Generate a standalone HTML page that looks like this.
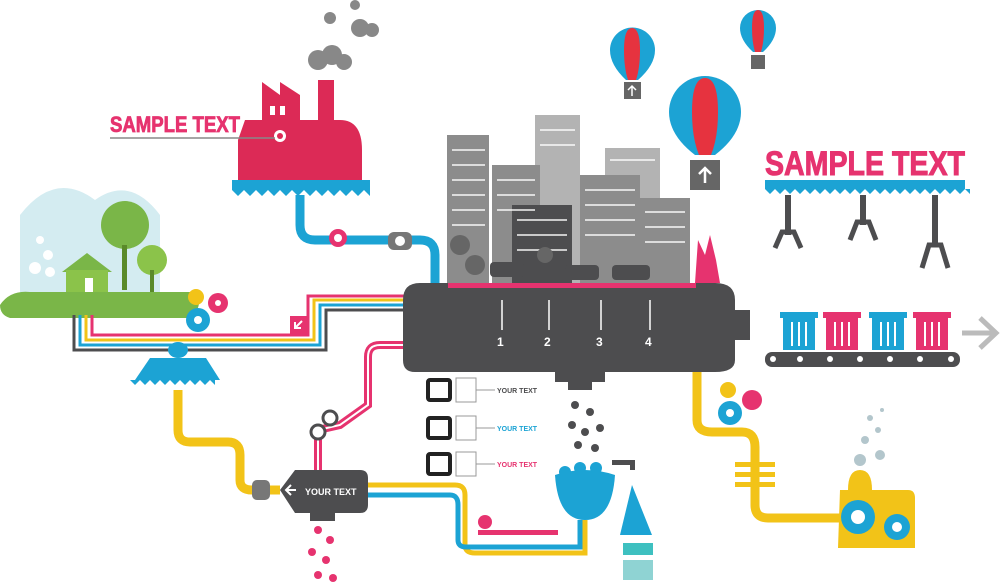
<!DOCTYPE html>
<html><head><meta charset="utf-8"><style>
html,body{margin:0;padding:0;background:#fff;width:1000px;height:584px;overflow:hidden}
svg{display:block}
text{font-family:"Liberation Sans",sans-serif;font-weight:bold}
</style></head><body>
<svg width="1000" height="584" viewBox="0 0 1000 584" xmlns="http://www.w3.org/2000/svg">
<g fill="#888">
<circle cx="330" cy="18" r="6"/><circle cx="355" cy="5" r="5"/>
<circle cx="360" cy="28" r="9"/><circle cx="372" cy="30" r="7"/>
<circle cx="318" cy="60" r="10"/><circle cx="332" cy="55" r="10"/><circle cx="344" cy="62" r="8"/>
</g>
<g fill="#dc2a56">
<rect x="318" y="80" width="16" height="40"/>
<polygon points="262,110 262,82 280,95 280,82 300,95 300,120 262,120"/>
<path d="M245 120 H340 Q362 120 362 150 V180 H238 V140 Z"/>
</g>
<circle cx="280" cy="136" r="6" fill="#fff"/><circle cx="280" cy="136" r="3" fill="#dc2a56"/>
<rect x="270" y="106" width="5" height="9" fill="#fff"/><rect x="280" y="106" width="5" height="9" fill="#fff"/>
<rect x="232" y="180" width="138" height="10" fill="#1ca3d4"/>
<path d="M232 190 l6 6 l6-6 l6 6 l6-6 l6 6 l6-6 l6 6 l6-6 l6 6 l6-6 l6 6 l6-6 l6 6 l6-6 l6 6 l6-6 l6 6 l6-6 l6 6 l6-6 l6 6 l6-6 l6 6 V190Z" fill="#1ca3d4"/>
<text x="110" y="132" font-size="22" fill="#e6336f" stroke="#e6336f" stroke-width="0.8" textLength="130" lengthAdjust="spacingAndGlyphs">SAMPLE TEXT</text>
<line x1="110" y1="138" x2="275" y2="138" stroke="#888" stroke-width="1.5"/>
<path d="M300 195 V225 Q300 240 315 240 H420 Q435 240 435 255 V285" fill="none" stroke="#1ca3d4" stroke-width="9"/>
<rect x="388" y="232" width="24" height="18" rx="6" fill="#777"/><circle cx="400" cy="241" r="5" fill="#fff"/>
<circle cx="338" cy="238" r="9" fill="#e6336f"/><circle cx="338" cy="238" r="4" fill="#fff"/>
<path d="M20 300 V215 Q55 170 95 200 Q130 175 160 215 V300Z" fill="#d4ecf1"/>
<g fill="#fff"><circle cx="40" cy="240" r="4"/><circle cx="48" cy="255" r="5"/><circle cx="35" cy="268" r="6"/><circle cx="50" cy="272" r="5"/></g>
<path d="M0 305 Q10 290 30 292 L195 292 Q205 305 190 318 L10 318 Q0 315 0 305Z" fill="#7ab648"/>
<circle cx="125" cy="225" r="24" fill="#7ab648"/><rect x="122" y="245" width="5" height="45" fill="#5a8a2a"/>
<circle cx="152" cy="260" r="15" fill="#8bc34a"/><rect x="150" y="270" width="4" height="22" fill="#5a8a2a"/>
<polygon points="62,272 87,253 112,272" fill="#7ab648"/><rect x="66" y="270" width="42" height="22" fill="#8bc34a"/>
<rect x="85" y="278" width="8" height="14" fill="#fff"/>
<circle cx="196" cy="297" r="8" fill="#f2c318"/><circle cx="218" cy="303" r="10" fill="#e6336f"/><circle cx="198" cy="320" r="12" fill="#1ca3d4"/>
<circle cx="198" cy="320" r="4" fill="#fff"/><circle cx="218" cy="303" r="3" fill="#fff"/>
<g fill="none" stroke-width="3">
<path d="M80 315 V345 H320 V305 H405" stroke="#1ca3d4"/>
<path d="M86 315 V340 H314 V300 H405" stroke="#f2c318"/>
<path d="M92 315 V335 H308 V296 H405" stroke="#e6336f"/>
<path d="M74 315 V350 H326 V310 H405" stroke="#4d4d4f"/>
</g>
<rect x="290" y="316" width="18" height="18" fill="#e6336f"/><path d="M302 321 L295 328 M295 322 V328 H301" stroke="#fff" stroke-width="2" fill="none"/>
<ellipse cx="178" cy="350" rx="10" ry="8" fill="#1ca3d4"/>
<path d="M150 358 H206 L220 380 H135Z" fill="#1ca3d4"/>
<path d="M130 380 l5 5 l5 -5 l5 5 l5-5 l5 5 l5-5 l5 5 l5-5 l5 5 l5-5 l5 5 l5-5 l5 5 l5-5 l5 5 l5-5 l5 5 V380Z" fill="#1ca3d4"/>
<path d="M178 390 V430 Q178 442 190 442 H228 Q240 442 240 455 V480 Q240 490 252 490 H280" fill="none" stroke="#f2c318" stroke-width="9"/>
<rect x="252" y="480" width="18" height="20" rx="5" fill="#777"/>
<path d="M280 490 L295 470 H360 Q368 470 368 478 V505 Q368 513 360 513 H295Z" fill="#4d4d4f"/>
<rect x="310" y="513" width="25" height="8" fill="#4d4d4f"/>
<text x="305" y="495" font-size="9" fill="#fff">YOUR TEXT</text>
<path d="M296 490 H286 M291 485 L286 490 L291 495" stroke="#fff" stroke-width="2" fill="none"/>
<g fill="#e6336f"><circle cx="318" cy="530" r="4"/><circle cx="330" cy="540" r="4"/><circle cx="312" cy="552" r="4"/><circle cx="326" cy="560" r="4"/><circle cx="318" cy="575" r="4"/><circle cx="333" cy="578" r="4"/></g>
<path d="M405 345 H380 Q368 345 368 357 V405 L340 425 L318 430 V470" fill="none" stroke="#e6336f" stroke-width="8"/>
<path d="M405 345 H380 Q368 345 368 357 V405 L340 425 L318 430 V470" fill="none" stroke="#fff" stroke-width="2"/>
<circle cx="330" cy="418" r="7" fill="#fff" stroke="#4d4d4f" stroke-width="3"/><circle cx="318" cy="432" r="7" fill="#fff" stroke="#4d4d4f" stroke-width="3"/>
<path d="M368 485 H455 Q465 485 465 495 V545 Q465 553 475 553 H585 V520" fill="none" stroke="#f2c318" stroke-width="5"/>
<path d="M368 495 H450 Q458 495 458 505 V540 Q458 547 466 547 H580 V520" fill="none" stroke="#1ca3d4" stroke-width="5"/>
<circle cx="485" cy="522" r="7" fill="#e6336f"/><rect x="478" y="530" width="80" height="5" fill="#e6336f"/>
<path d="M555 475 Q585 465 615 475 Q612 520 585 520 Q558 520 555 475Z" fill="#1ca3d4"/>
<circle cx="565" cy="472" r="6" fill="#1ca3d4"/><circle cx="580" cy="468" r="6" fill="#1ca3d4"/><circle cx="596" cy="468" r="6" fill="#1ca3d4"/>
<rect x="612" y="460" width="22" height="5" fill="#4d4d4f"/><rect x="630" y="460" width="5" height="10" fill="#4d4d4f"/>
<path d="M632 485 L652 535 H620Z" fill="#1ca3d4"/>
<rect x="623" y="543" width="30" height="12" fill="#3ec0c0"/><rect x="623" y="560" width="30" height="20" fill="#8fd3d3"/>
<g fill="#4d4d4f"><circle cx="575" cy="405" r="4"/><circle cx="590" cy="412" r="4"/><circle cx="572" cy="425" r="4"/><circle cx="585" cy="432" r="4"/><circle cx="600" cy="428" r="4"/><circle cx="578" cy="445" r="4"/><circle cx="595" cy="448" r="4"/></g>
<g fill="#fff" stroke="#222" stroke-width="4"><rect x="428" y="380" width="22" height="20" rx="2"/><rect x="428" y="418" width="22" height="20" rx="2"/><rect x="428" y="454" width="22" height="20" rx="2"/></g>
<g fill="none" stroke="#999" stroke-width="1"><rect x="456" y="378" width="20" height="24"/><rect x="456" y="416" width="20" height="24"/><rect x="456" y="452" width="20" height="24"/>
<line x1="476" y1="390" x2="495" y2="390"/><line x1="476" y1="428" x2="495" y2="428"/><line x1="476" y1="464" x2="495" y2="464"/></g>
<text x="497" y="393" font-size="7" fill="#4d4d4f">YOUR TEXT</text>
<text x="497" y="431" font-size="7" fill="#1ca3d4">YOUR TEXT</text>
<text x="497" y="467" font-size="7" fill="#e6336f">YOUR TEXT</text>
<g fill="#b3b3b3"><rect x="535" y="115" width="45" height="170"/><rect x="605" y="148" width="55" height="137"/></g>
<g fill="#8c8c8c"><rect x="447" y="135" width="42" height="150"/><rect x="492" y="165" width="48" height="120"/><rect x="580" y="175" width="60" height="110"/><rect x="640" y="198" width="50" height="87"/></g>
<rect x="512" y="205" width="60" height="80" fill="#4d4d4f"/>
<g stroke="#fff" stroke-width="2" opacity="0.7">
<path d="M452 150 H485 M452 165 H485 M452 180 H485 M452 195 H485 M452 210 H485 M452 225 H485 M497 180 H535 M497 195 H535 M497 210 H535 M585 190 H635 M585 205 H635 M585 220 H635 M585 235 H635 M645 212 H685 M645 227 H685 M645 242 H685 M517 220 H567 M517 235 H567 M517 250 H567 M540 130 H575 M540 145 H575 M610 160 H655"/>
</g>
<g fill="#666"><circle cx="460" cy="245" r="10"/><circle cx="475" cy="265" r="10"/><circle cx="545" cy="255" r="8"/></g>
<g fill="#4d4d4f"><rect x="490" y="262" width="34" height="15" rx="4"/><rect x="565" y="265" width="34" height="15" rx="4"/><rect x="612" y="265" width="38" height="15" rx="4"/></g>
<path d="M695 283 L698 240 L705 255 L710 235 L716 260 L720 283Z" fill="#e6336f"/>
<rect x="447" y="283" width="250" height="5" fill="#e6336f"/>
<rect x="447" y="288" width="250" height="3" fill="#1ca3d4"/>
<path d="M428 283 H448 V288 H696 V283 H715 Q735 283 735 300 V360 Q735 372 715 372 H415 Q403 372 403 360 V300 Q403 283 420 283Z" fill="#4d4d4f"/>
<rect x="735" y="310" width="15" height="30" fill="#4d4d4f"/>
<rect x="555" y="372" width="50" height="10" fill="#4d4d4f"/><rect x="568" y="382" width="24" height="8" fill="#4d4d4f"/>
<g stroke="#fff" stroke-width="1.5"><line x1="502" y1="300" x2="502" y2="330"/><line x1="549" y1="300" x2="549" y2="330"/><line x1="601" y1="300" x2="601" y2="330"/><line x1="650" y1="300" x2="650" y2="330"/></g>
<g font-size="12" fill="#fff"><text x="497" y="346">1</text><text x="544" y="346">2</text><text x="596" y="346">3</text><text x="645" y="346">4</text></g>
<path d="M697 372 V420 Q697 432 712 432 H742 Q755 432 755 447 V505 Q755 518 768 518 H840" fill="none" stroke="#f2c318" stroke-width="9"/>
<g fill="#f2c318"><rect x="735" y="462" width="40" height="5"/><rect x="735" y="472" width="40" height="5"/><rect x="735" y="482" width="40" height="5"/></g>
<circle cx="728" cy="390" r="8" fill="#f2c318"/><circle cx="752" cy="400" r="10" fill="#e6336f"/><circle cx="730" cy="413" r="12" fill="#1ca3d4"/><circle cx="730" cy="413" r="4" fill="#fff"/>
<path d="M840 490 H908 Q915 490 915 498 V548 H838 Z" fill="#f2c318"/>
<path d="M848 490 Q848 470 860 470 Q872 470 872 490Z" fill="#f2c318"/>
<circle cx="858" cy="517" r="17" fill="#1ca3d4"/><circle cx="858" cy="517" r="7" fill="#fff"/>
<circle cx="897" cy="527" r="13" fill="#1ca3d4"/><circle cx="897" cy="527" r="5" fill="#fff"/>
<g fill="#b3c6cc"><circle cx="860" cy="460" r="6"/><circle cx="880" cy="455" r="5"/><circle cx="865" cy="440" r="4"/><circle cx="878" cy="430" r="3"/><circle cx="870" cy="418" r="3"/><circle cx="882" cy="410" r="2"/></g>
<g>
<path d="M610 50 A22 22 0 0 1 655 50 Q655 65 638 80 H626 Q610 65 610 50Z" fill="#1ca3d4"/>
<path d="M624 50 Q624 28 632 28 Q640 28 640 50 Q640 68 636 80 H628 Q624 68 624 50Z" fill="#e6333f"/>
<rect x="624" y="82" width="17" height="17" fill="#666"/><path d="M632 96 V86 M628 90 L632 86 L636 90" stroke="#fff" stroke-width="1.5" fill="none"/>
<path d="M740 28 A18 18 0 0 1 776 28 Q776 40 763 52 H753 Q740 40 740 28Z" fill="#1ca3d4"/>
<path d="M752 28 Q752 10 758 10 Q764 10 764 28 Q764 42 761 52 H755 Q752 42 752 28Z" fill="#e6333f"/>
<rect x="751" y="55" width="14" height="14" fill="#666"/>
<path d="M669 112 A36 36 0 0 1 741 112 Q741 135 715 155 H695 Q669 135 669 112Z" fill="#1ca3d4"/>
<path d="M692 112 Q692 78 705 78 Q718 78 718 112 Q718 138 711 155 H699 Q692 138 692 112Z" fill="#e6333f"/>
<rect x="690" y="160" width="30" height="30" fill="#666"/><path d="M705 183 V168 M699 174 L705 168 L711 174" stroke="#fff" stroke-width="2.5" fill="none"/>
</g>
<text x="765" y="175" font-size="34" fill="#e6336f" stroke="#e6336f" stroke-width="1" textLength="200" lengthAdjust="spacingAndGlyphs">SAMPLE TEXT</text>
<rect x="765" y="180" width="200" height="9" fill="#1ca3d4"/>
<path d="M765 189 l5 5 l5-5 l5 5 l5-5 l5 5 l5-5 l5 5 l5-5 l5 5 l5-5 l5 5 l5-5 l5 5 l5-5 l5 5 l5-5 l5 5 l5-5 l5 5 l5-5 l5 5 l5-5 l5 5 l5-5 l5 5 l5-5 l5 5 l5-5 l5 5 l5-5 l5 5 l5-5 l5 5 l5-5 l5 5 l5-5 l5 5 l5-5 l5 5 l5-5 l5 5 V189Z" fill="#1ca3d4"/>
<g fill="#4d4d4f">
<rect x="785" y="195" width="6" height="40"/><path d="M775 248 L782 232 H794 L801 248" stroke="#4d4d4f" stroke-width="5" fill="none"/>
<rect x="860" y="195" width="6" height="30"/><path d="M850 240 L857 222 H869 L876 240" stroke="#4d4d4f" stroke-width="5" fill="none"/>
<rect x="932" y="195" width="6" height="50"/><path d="M922 268 L929 245 H941 L948 268" stroke="#4d4d4f" stroke-width="5" fill="none"/>
</g>
<g>
<rect x="783" y="318" width="32" height="32" fill="#1ca3d4"/><rect x="780" y="312" width="38" height="6" fill="#1ca3d4"/>
<rect x="826" y="318" width="32" height="32" fill="#e6336f"/><rect x="823" y="312" width="38" height="6" fill="#e6336f"/>
<rect x="872" y="318" width="32" height="32" fill="#1ca3d4"/><rect x="869" y="312" width="38" height="6" fill="#1ca3d4"/>
<rect x="916" y="318" width="32" height="32" fill="#e6336f"/><rect x="913" y="312" width="38" height="6" fill="#e6336f"/>
<g stroke="#fff" stroke-width="2"><path d="M792 322 V346 M799 322 V346 M806 322 V346 M835 322 V346 M842 322 V346 M849 322 V346 M881 322 V346 M888 322 V346 M895 322 V346 M925 322 V346 M932 322 V346 M939 322 V346"/></g>
</g>
<rect x="765" y="352" width="195" height="15" rx="7" fill="#4d4d4f"/>
<g fill="#fff"><circle cx="773" cy="359" r="3"/><circle cx="800" cy="359" r="3"/><circle cx="830" cy="359" r="3"/><circle cx="860" cy="359" r="3"/><circle cx="890" cy="359" r="3"/><circle cx="920" cy="359" r="3"/><circle cx="951" cy="359" r="3"/></g>
<path d="M962 333 H995 M980 318 L996 333 L980 348" stroke="#bbb" stroke-width="5" fill="none"/>
</svg>
</body></html>
